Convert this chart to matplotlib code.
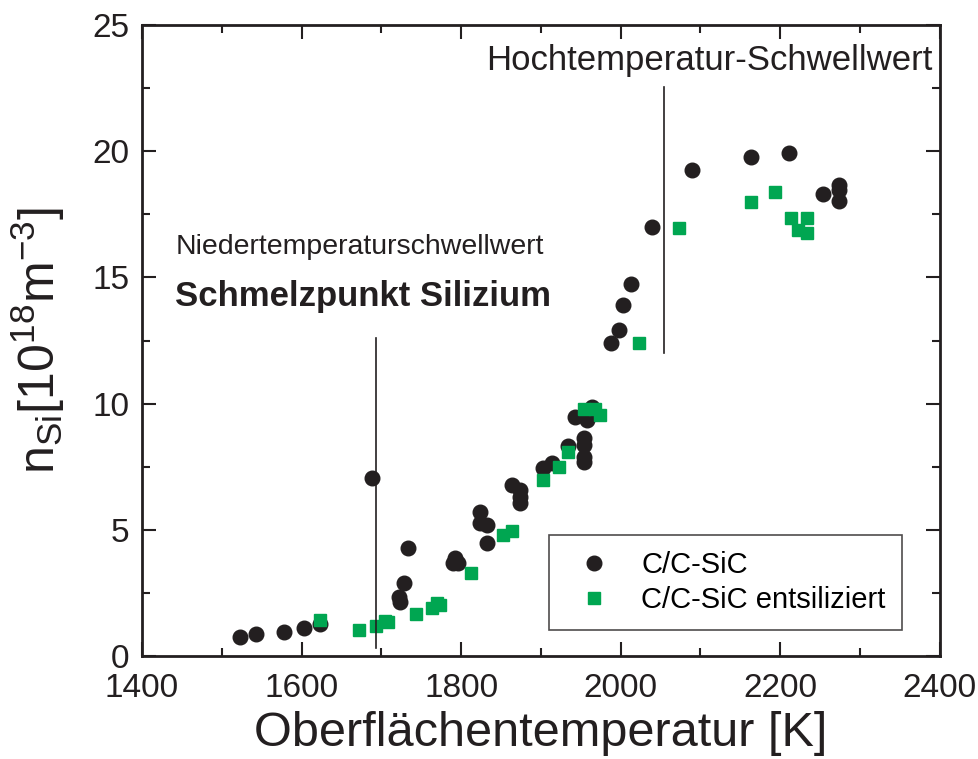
import matplotlib.pyplot as plt
from matplotlib.ticker import MultipleLocator

# C/C-SiC
t_sic = [1523, 1543, 1578, 1603, 1623, 1688, 1722, 1724, 1728, 1733,
         1792, 1796, 1790, 1824, 1824, 1832, 1832, 1864, 1874, 1874, 1874,
         1903, 1914, 1934, 1943, 1958, 1954, 1954, 1954, 1954, 1964,
         1988, 1998, 2003, 2013, 2039, 2089, 2163, 2211, 2253, 2273, 2273, 2273]
n_sic = [0.75, 0.87, 0.95, 1.11, 1.27, 7.05, 2.34, 2.12, 2.89, 4.28,
         3.88, 3.68, 3.70, 5.70, 5.27, 5.19, 4.48, 6.77, 6.58, 6.30, 6.06,
         7.45, 7.65, 8.32, 9.47, 9.35, 8.64, 8.36, 7.88, 7.69, 9.87,
         12.40, 12.92, 13.90, 14.74, 17.00, 19.25, 19.78, 19.93, 18.30, 18.66, 18.46, 18.03]

# C/C-SiC entsiliziert
t_ent = [1623, 1672, 1693, 1704, 1708, 1743, 1763, 1770, 1773, 1813,
         1852, 1864, 1903, 1923, 1934, 1954, 1968, 1974,
         2023, 2073, 2163, 2193, 2213, 2233, 2222, 2233]
n_ent = [1.42, 1.05, 1.19, 1.40, 1.35, 1.66, 1.90, 2.10, 2.02, 3.29,
         4.79, 4.95, 6.97, 7.49, 8.08, 9.80, 9.79, 9.55,
         12.40, 16.96, 18.00, 18.40, 17.35, 17.35, 16.88, 16.76]

t_low, t_high = 1693, 2054

ink = '#231f20'
plt.rcParams['font.family'] = ['Liberation Sans', 'DejaVu Sans']

fig = plt.figure(figsize=(9.79, 7.59), dpi=100)
ax = fig.add_axes([0.145, 0.1357, 0.815, 0.8313])

ax.plot(t_sic, n_sic, 'o', color=ink, markersize=10.5, linestyle='none',
        label='C/C-SiC')
ax.plot(t_ent, n_ent, 's', color='#00a651', markersize=9, linestyle='none',
        label='C/C-SiC entsiliziert')

# threshold markers
ax.plot([t_low, t_low], [0.3, 12.6], color=ink, lw=1.2)
ax.plot([t_high, t_high], [12.0, 22.55], color=ink, lw=1.2)

ax.text(1442, 16.2, 'Niedertemperaturschwellwert', fontsize=20.5, color=ink,
        va='center', ha='left')
ax.text(1442, 14.25, 'Schmelzpunkt Silizium', fontsize=25, color=ink,
        va='center', ha='left', fontweight='bold')
ax.text(2391, 23.6, 'Hochtemperatur-Schwellwert', fontsize=25, color=ink,
        va='center', ha='right')

ax.set_xlim(1400, 2400)
ax.set_ylim(0, 25)
ax.xaxis.set_major_locator(MultipleLocator(200))
ax.xaxis.set_minor_locator(MultipleLocator(100))
ax.yaxis.set_major_locator(MultipleLocator(5))
ax.yaxis.set_minor_locator(MultipleLocator(2.5))
ax.tick_params(which='both', direction='in', top=True, right=True,
               width=1.5, color=ink)
ax.tick_params(which='major', length=10, labelsize=24, labelcolor=ink)
ax.tick_params(axis='x', which='major', pad=12)
ax.tick_params(axis='y', which='major', pad=9)
ax.tick_params(which='minor', length=6)
for s in ax.spines.values():
    s.set_linewidth(2)
    s.set_color(ink)

ax.set_xlabel('Oberflächentemperatur [K]', fontsize=35, color=ink, labelpad=5)
ax.set_ylabel(r'n$_{\mathregular{Si}}$[10$^{\mathregular{18}}$m$^{\mathregular{-3}}$]',
              fontsize=36, color=ink, labelpad=18)

leg = ax.legend(loc='lower right', bbox_to_anchor=(0.952, 0.041), fontsize=21,
                frameon=True, fancybox=False, edgecolor=ink, borderaxespad=0,
                handletextpad=0.6, borderpad=0.55, labelspacing=0.25,
                handlelength=2.0, numpoints=1)
leg.get_frame().set_linewidth(1.2)

fig.savefig('out.png', dpi=100)
